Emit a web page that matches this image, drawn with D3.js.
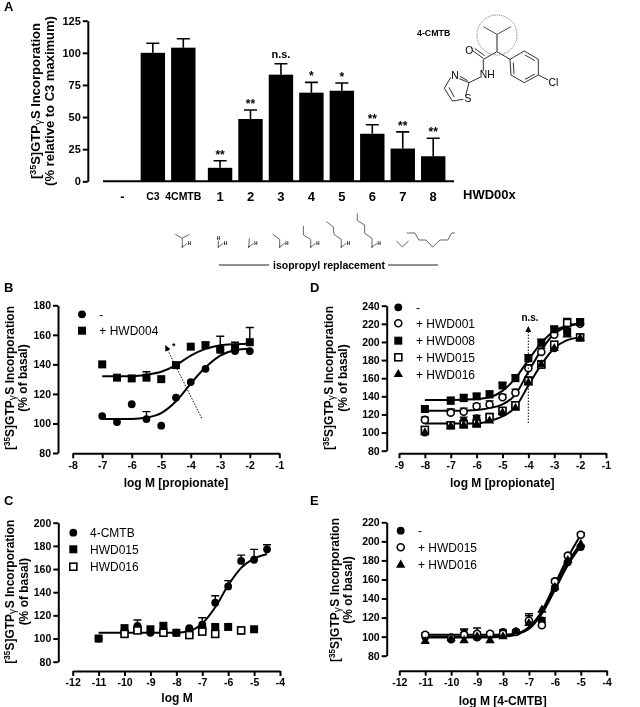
<!DOCTYPE html>
<html><head><meta charset="utf-8">
<script src="https://cdnjs.cloudflare.com/ajax/libs/d3/7.8.5/d3.min.js"></script>
<style>html,body{margin:0;padding:0;background:#fff}svg{display:block;filter:blur(0.35px)}text{font-family:"Liberation Sans",Arial,sans-serif;fill:#000}</style>
</head><body><svg id="c" width="640" height="707"></svg>
<script>
// ---------- Panel A data
const aCategories = ["-","C3","4CMTB","1","2","3","4","5","6","7","8"];
const aValues = [0,100,104,10.5,48.5,83,69,70.5,37,25.5,19.5];
const aErrors = [0,7.5,7,5.5,7,8.5,8,6,7,13,14];
const aSignif = ["","","","**","**","n.s.","*","*","**","**","**"];
const aTicks = [0,25,50,75,100,125];
// ---------- Panel B data
const bX = [-7,-6.5,-6,-5.5,-5,-4.5,-4,-3.5,-3,-2.5,-2];
const bControl = [105,101,113,103,98.5,117.5,128,137,150,149,149];
const bControlErr = [0,0,0,5,0,0,0,0,0,0,0];
const bHwd004 = [140,131,130.5,131,130,139.5,152,153,150,151,155];
const bHwd004Err = [0,0,0,4,0,0,0,2,9,4,10];
const bCurveX = [-7,-6,-5.5,-5,-4.5,-4,-3.5,-3,-2.5,-2];
const bControlCurve = [103,103,104,107,115,127,138,146,149.5,150.5];
const bHwd004Curve = [132,132,133,135,139.5,146,150.5,153,153.7,154];
// ---------- Panel C data
const cCmtbX = [-11,-10,-9.5,-9,-8.5,-8,-7.5,-7,-6.5,-6,-5.5,-5,-4.5];
const cCmtb = [100,105,111,105,105,105,109,112,131,145,167,168,177];
const cCmtbErr = [0,0,5,0,0,0,0,6,6,5,5,9,4];
const c015X = [-11,-10,-9.5,-9,-8.5,-8,-7.5,-7,-6.5,-6,-5.5,-5];
const c015 = [100,109,108,108,111,105,106,108,110,110,107,108];
const c016X = [-10,-9.5,-8.5,-7.5,-7,-6.5,-5.5];
const c016 = [104,107,105,103,106,104,107];
const cCurveX = [-11,-10,-9,-8,-7.5,-7,-6.5,-6,-5.5,-5,-4.5];
const cCurve = [105,105,105,105,106.5,113,127,146,161,169,173];
// ---------- Panel D data
const dX = [-8,-7,-6.5,-6,-5.5,-5,-4.5,-4,-3.5,-3,-2.5,-2];
const dControl = [100,108,113,116,115,122,130,157,175,193,212,205];
const dHwd001 = [114,122,123,129,131,139,144,171,189,208,220,220];
const dHwd008 = [126,135,138,140,142,152,160,182,199,214,210,222];
const dHwd015 = [103,108,109,110,117,124,130,157,175,197,221,205];
const dHwd016 = [100,107,108,109,113,122,127,155,175,193,208,204];
const dErr = [3,4,4,3,4,3,4,4,4,3,5,3];
const dCurveX = [-8,-7,-6,-5.5,-5,-4.5,-4,-3.5,-3,-2.5,-2];
const dCurveTop = [136,136,137,139,146,160,180,199,212,218,220];
const dCurveMid = [124,124,125,127,131,142,167,191,209,217,220];
const dCurveLow = [110,110,110,113,118,128,152,175,193,202,205];
// ---------- Panel E data
const eX = [-11,-10,-9.5,-9,-8.5,-8,-7.5,-7,-6.5,-6,-5.5,-5];
const eControl = [100,97,103,99,102,105,105,115,117,151,178,194];
const eHwd015 = [102,99,102,103,103,103,105,117,112,158,185,207];
const eHwd016 = [95,98,96,100,96,100,105,114,128,152,180,197];
const eErr = [2,3,5,6,2,2,2,7,3,2,2,2];
const eCurveX = [-11,-10,-9,-8,-7.5,-7,-6.5,-6,-5.5,-5];
const eCurveA = [100,100,100,101,103,108,124,149,175,195];
const eCurveB = [102,102,102,102,103,110,127,155,183,207];
const eCurveC = [99,99,99,100,102,109,126,152,178,198];

const svg = d3.select("#c");
const rotText = (cx,cy,lines,size)=>{
  lines.forEach(l=>{
    const t = svg.append("text").attr("transform",`translate(${l.x},${cy}) rotate(-90)`)
      .attr("text-anchor","middle").attr("font-weight","bold").attr("font-size",size);
    if(l.gtp){
      t.append("tspan").text("[");
      t.append("tspan").attr("dy",-4).attr("font-size",size*0.68).text("35");
      t.append("tspan").attr("dy",4).text("S]GTP");
      t.append("tspan").attr("font-weight","normal").attr("dy",2).attr("font-size",size*0.85).text("γ");
      t.append("tspan").attr("dy",-2).attr("dx",0.5).text("S Incorporation");
    } else t.text(l.t);
  });
};
const label=(x,y,t,o={})=>svg.append("text").attr("x",x).attr("y",y).text(t)
  .attr("font-size",o.size||10.5).attr("font-weight",o.weight||"bold").attr("text-anchor",o.anchor||"start");
const axisStyle=g=>{g.select(".domain").attr("stroke","#000").attr("stroke-width",2);
  g.selectAll(".tick line").attr("stroke","#000").attr("stroke-width",2);
  g.selectAll("text").attr("font-size",10.5).attr("font-weight","bold").attr("font-family",'"Liberation Sans",Arial,sans-serif').attr("fill","#000");};

function marker(g,kind,x,y){
  if(kind==="fc") g.append("circle").attr("cx",x).attr("cy",y).attr("r",3.9).attr("fill","#000");
  if(kind==="oc") g.append("circle").attr("cx",x).attr("cy",y).attr("r",3.5).attr("fill","#fff").attr("stroke","#000").attr("stroke-width",1.6);
  if(kind==="fs") g.append("rect").attr("x",x-4).attr("y",y-4).attr("width",8).attr("height",8).attr("fill","#000");
  if(kind==="os") g.append("rect").attr("x",x-3.5).attr("y",y-3.5).attr("width",7).attr("height",7).attr("fill","#fff").attr("stroke","#000").attr("stroke-width",1.6);
  if(kind==="ft") g.append("path").attr("transform",`translate(${x},${y})`).attr("d",d3.symbol(d3.symbolTriangle,38)()).attr("fill","#000");
}

function panel(o){
  const x=d3.scaleLinear().domain(o.xDomain).range(o.xRange);
  const y=d3.scaleLinear().domain(o.yDomain).range(o.yRange);
  svg.append("g").attr("transform",`translate(${o.yAxisX},0)`)
    .call(d3.axisLeft(y).tickValues(o.yTicks).tickSize(5).tickPadding(2).tickSizeOuter(0)).call(axisStyle);
  svg.append("g").attr("transform",`translate(0,${o.xAxisY})`)
    .call(d3.axisBottom(x).tickValues(d3.range(o.xDomain[0],o.xDomain[1]+1)).tickFormat(d=>String(d)).tickSize(5).tickPadding(3).tickSizeOuter(0)).call(axisStyle);
  const line=d3.line().x(d=>x(d[0])).y(d=>y(d[1])).curve(d3.curveMonotoneX);
  o.curves.forEach(c=>svg.append("path").attr("d",line(d3.zip(c[0],c[1]))).attr("fill","none").attr("stroke","#000").attr("stroke-width",2));
  o.series.forEach(s=>{
    const g=svg.append("g");
    s.x.forEach((v,i)=>{
      const e=s.err?s.err[i]:0;
      if(e>0){
        g.append("path").attr("d",`M${x(v)},${y(s.y[i])}V${y(s.y[i]+e)}M${x(v)-4},${y(s.y[i]+e)}H${x(v)+4}`)
          .attr("stroke","#000").attr("stroke-width",1.4).attr("fill","none");
      }
      marker(g,s.kind,x(v),y(s.y[i]));
    });
  });
  o.legend.forEach(l=>{marker(svg,l.kind,o.legendX,l.y);label(o.legendTextX,l.y+4.2,l.t,{size:12,weight:"normal"});});
  label(o.titleX,o.titleY,o.title,{size:12,anchor:"middle"});
  rotText(0,o.yTitleY,o.yTitle,12);
}

// ---------- Panel A
(function(){
  const step=30.45, gap=6.3;
  const idx=d3.scaleLinear().domain([0,10]).range([122.4,122.4+10*step]);
  const px=i=>idx(i)+(i>2?gap:0);
  const y=d3.scaleLinear().domain([0,125]).range([181.3,20.7]);
  aValues.forEach((v,i)=>{
    if(v<=0)return;
    svg.append("rect").attr("x",px(i)-12.2).attr("width",24.4).attr("y",y(v)).attr("height",y(0)-y(v)).attr("fill","#000");
    const t=y(v+aErrors[i]);
    svg.append("path").attr("d",`M${px(i)},${y(v)}V${t}M${px(i)-6.5},${t}H${px(i)+6.5}`).attr("stroke","#000").attr("stroke-width",1.6).attr("fill","none");
    if(aSignif[i]) label(px(i),aSignif[i]==="n.s."?t-6:t-2,aSignif[i],{size:aSignif[i]==="n.s."?11:12,anchor:"middle"});
    const big=i>=3;
    label(px(i),big?201:200,aCategories[i],{size:big?13:10.5,anchor:"middle"});
  });
  label(px(0),200.5,"-",{size:13,anchor:"middle"});
  svg.append("g").attr("transform","translate(87.8,0)").call(d3.axisLeft(y).tickValues(aTicks).tickSize(5).tickPadding(2).tickSizeOuter(0)).call(g=>{axisStyle(g);g.selectAll("text").attr("font-size",11);});
  svg.append("path").attr("d",`M103,${y(0)}H454`).attr("stroke","#000").attr("stroke-width",2);
  label(463,199,"HWD00x",{size:13});
  rotText(0,101,[{x:40,gtp:true},{x:54,t:"(% relative to C3 maximum)"}],13);
  // replacement side-chain sketches, one per compound position
  const chains=[
    [[[ -7,-12.7],[0,-8.7],[7,-12.7]],[[0,-8.7],[0,0]]],
    [[[0,0],[0,-6.5]]],
    [[[0,0],[0.7,-8.7]]],
    [[[0,0],[0,-7.6],[-7,-12.7]]],
    [[[0,0],[0,-7.6],[-7.3,-12],[-7.3,-21]]],
    [[[0,0],[0,-7.6],[-7.3,-12.7],[-8,-20],[-14.7,-25.3]]],
    [[[0,0],[0,-8.7],[-7.3,-13.7],[-7.3,-22],[-14.7,-26.3],[-14.7,-33.7]]],
    [[[-5.7,-6],[0,0],[6.3,-6]]],
    [[[-26,-14],[-17.7,-14],[-14,-7],[-6.7,-7],[0,0],[7.3,-7],[15,-7],[19,-14],[22.3,-14]]]
  ];
  const cx=[182.3,218.3,248.7,279.7,310.7,341.3,372,402.3,432.7];
  const l=d3.line();
  chains.forEach((c,i)=>{
    const g=svg.append("g").attr("transform",`translate(${cx[i]},247)`);
    c.forEach(p=>g.append("path").attr("d",l(p)).attr("fill","none").attr("stroke","#555").attr("stroke-width",0.9));
    if(i<7){
      g.append("path").attr("d","M0,0L5,-3.7").attr("stroke","#444").attr("stroke-width",0.8);
      g.append("text").attr("x",5.5).attr("y",-2.2).attr("font-size",4.5).attr("font-weight","bold").text("H");
      g.append("circle").attr("r",0.8).attr("fill","#333");
    }
    if(i===1) g.append("text").attr("x",-1.5).attr("y",-7).attr("font-size",4.5).attr("font-weight","bold").text("H");
  });
  svg.append("path").attr("d","M219,265H269M388,265H438").attr("stroke","#222").attr("stroke-width",1);
  label(329,268.5,"isopropyl replacement",{size:10.5,anchor:"middle"});
  // 4-CMTB structure
  label(417,36,"4-CMTB",{size:8.8});
  const mol=svg.append("g").attr("transform","translate(400,0) scale(0.3333)");
  const bonds=[
    [[250,178],[291,155],[330,178]],[[218,152],[250,175]],[[224,145],[254,167]],[[250,178],[250,213]],
    [[240,232],[207,248],[178,236]],[[207,248],[197,288]],[[152,232],[133,265],[157,303],[190,298]],[[147,262],[163,292]],[[180,229],[203,242]],
    [[330,178],[373,153],[415,178],[415,225],[373,248],[333,225],[330,178]],[[375,165],[405,182]],[[405,222],[375,238]],[[342,222],[340,188]],[[415,225],[445,240]]
  ];
  bonds.forEach(b=>mol.append("path").attr("d",l(b)).attr("fill","none").attr("stroke","#111").attr("stroke-width",2.6));
  [[[250,80],[291,103],[333,80]],[[291,103],[291,155]]].forEach((b,i)=>mol.append("path").attr("d",l(b)).attr("fill","none").attr("stroke",i?"#777":"#333").attr("stroke-width",i?5:2.6));
  mol.append("circle").attr("cx",291).attr("cy",105).attr("r",60).attr("fill","none").attr("stroke","#555").attr("stroke-width",2.2).attr("stroke-dasharray","4 3");
  [["O",208,162],["N",165,238],["NH",262,235],["S",204,306],["Cl",460,258]].forEach(a=>mol.append("text").attr("x",a[1]).attr("y",a[2]).attr("text-anchor","middle").attr("font-size",31).text(a[0]));
})();

const panels=[
 {letter:"B",lx:4,ly:292,xDomain:[-8,-1],xRange:[72.7,279.3],yDomain:[80,180],yRange:[453,305.3],yAxisX:58,xAxisY:453.3,
  yTicks:d3.range(80,181,20),title:"log M [propionate]",titleX:176,titleY:487,yTitleY:378,yTitle:[{x:14,gtp:true},{x:27,t:"(% of basal)"}],
  legendX:82,legendTextX:99.3,legend:[{kind:"fc",y:314.3,t:"-"},{kind:"fs",y:330.7,t:"+ HWD004"}],
  curves:[[bCurveX,bControlCurve],[bCurveX,bHwd004Curve]],
  series:[{kind:"fc",x:bX,y:bControl,err:bControlErr},{kind:"fs",x:bX,y:bHwd004,err:bHwd004Err}]},
 {letter:"C",lx:4,ly:505,xDomain:[-12,-4],xRange:[72.7,280],yDomain:[80,200],yRange:[661.7,522.7],yAxisX:58.3,xAxisY:671,
  yTicks:d3.range(80,201,20),title:"log M",titleX:177,titleY:702,yTitleY:591.7,yTitle:[{x:14,gtp:true},{x:28,t:"(% of basal)"}],
  legendX:73.3,legendTextX:90,legend:[{kind:"fc",y:532.7,t:"4-CMTB"},{kind:"fs",y:549.3,t:"HWD015"},{kind:"os",y:566.7,t:"HWD016"}],
  curves:[[cCurveX,cCurve]],
  series:[{kind:"fc",x:cCmtbX,y:cCmtb,err:cCmtbErr},{kind:"fs",x:c015X,y:c015},{kind:"os",x:c016X,y:c016}]},
 {letter:"D",lx:310,ly:292,xDomain:[-9,-1],xRange:[399,606],yDomain:[80,240],yRange:[450.7,305.7],yAxisX:386.7,xAxisY:453.3,
  yTicks:d3.range(80,241,20),title:"log M [propionate]",titleX:502.3,titleY:487,yTitleY:378,yTitle:[{x:333,gtp:true},{x:347,t:"(% of basal)"}],
  legendX:398.3,legendTextX:416,legend:[{kind:"fc",y:307.3,t:"-"},{kind:"oc",y:323.3,t:"+ HWD001"},{kind:"fs",y:340.7,t:"+ HWD008"},{kind:"os",y:357.3,t:"+ HWD015"},{kind:"ft",y:374.3,t:"+ HWD016"}],
  curves:[[dCurveX,dCurveTop],[dCurveX,dCurveMid],[dCurveX,dCurveLow]],
  series:[{kind:"fc",x:dX,y:dControl,err:dErr},{kind:"oc",x:dX,y:dHwd001,err:dErr},{kind:"fs",x:dX,y:dHwd008,err:dErr},{kind:"os",x:dX,y:dHwd015,err:dErr},{kind:"ft",x:dX,y:dHwd016}]},
 {letter:"E",lx:310,ly:505,xDomain:[-12,-4],xRange:[399.3,606.7],yDomain:[80,220],yRange:[655.7,522.3],yAxisX:386.7,xAxisY:670.7,
  yTicks:d3.range(80,221,20),title:"log M [4-CMTB]",titleX:502.7,titleY:704.5,yTitleY:590,yTitle:[{x:339,gtp:true},{x:352,t:"(% of basal)"}],
  legendX:400.7,legendTextX:418,legend:[{kind:"fc",y:530.7,t:"-"},{kind:"oc",y:547.3,t:"+ HWD015"},{kind:"ft",y:565,t:"+ HWD016"}],
  curves:[[eCurveX,eCurveA],[eCurveX,eCurveB],[eCurveX,eCurveC]],
  series:[{kind:"fc",x:eX,y:eControl,err:eErr},{kind:"oc",x:eX,y:eHwd015,err:eErr},{kind:"ft",x:eX,y:eHwd016}]}
];
panels.forEach(p=>{panel(p);label(p.lx,p.ly,p.letter,{size:13});});
label(4,11,"A",{size:13});

// significance arrows in B and D
svg.append("defs").append("marker").attr("id","ah").attr("viewBox","0 0 6 6").attr("refX",5).attr("refY",3).attr("markerWidth",6).attr("markerHeight",6).attr("orient","auto")
  .append("path").attr("d","M0,0L6,3L0,6Z").attr("fill","#000");
svg.append("line").attr("x1",201.7).attr("y1",418.3).attr("x2",165.7).attr("y2",346).attr("stroke","#000").attr("stroke-dasharray","1.5 1.5").attr("marker-end","url(#ah)");
label(172,349,"*",{size:9});
svg.append("line").attr("x1",528.3).attr("y1",423).attr("x2",528.3).attr("y2",327).attr("stroke","#000").attr("stroke-dasharray","1.5 1.5").attr("marker-end","url(#ah)");
label(530,321,"n.s.",{size:10,anchor:"middle"});
</script></body></html>
